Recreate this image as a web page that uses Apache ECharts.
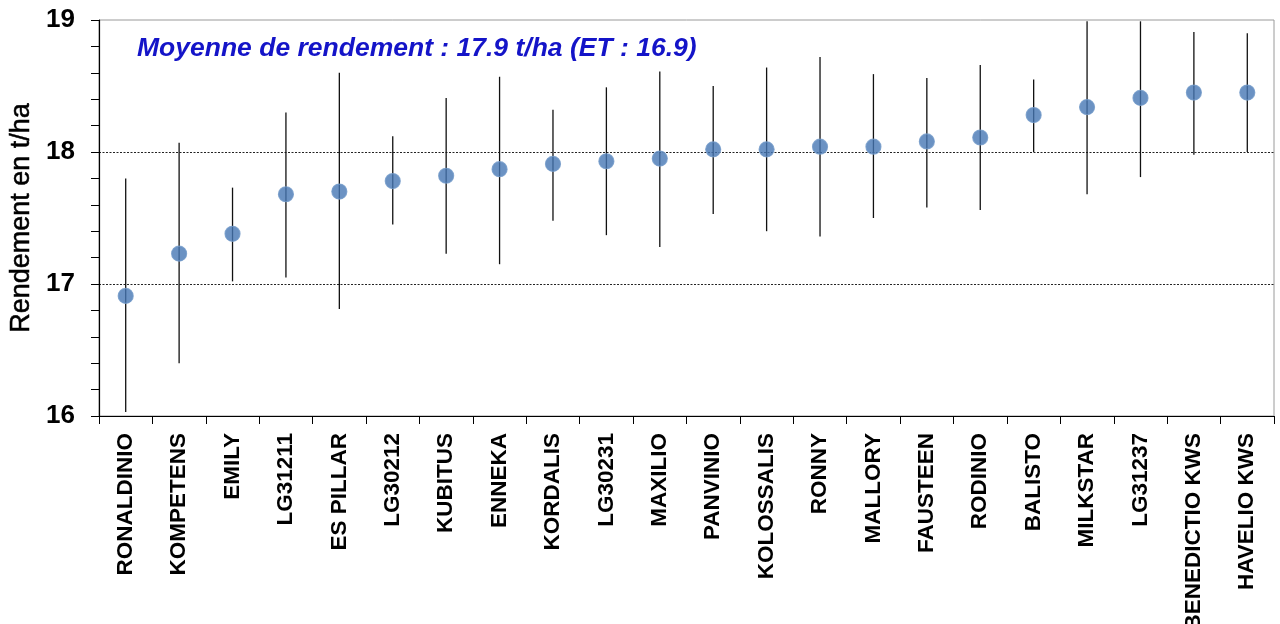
<!DOCTYPE html>
<html>
<head>
<meta charset="utf-8">
<script src="https://cdn.jsdelivr.net/npm/echarts@6/dist/echarts.min.js"></script>
<style>
html,body{margin:0;padding:0;background:#fff;}
#main{width:1280px;height:624px;}
</style>
</head>
<body>
<div id="main"></div>
<script>
var categories = ['RONALDINIO','KOMPETENS','EMILY','LG31211','ES PILLAR','LG30212','KUBITUS','ENNEKA','KORDALIS','LG30231','MAXILIO','PANVINIO','KOLOSSALIS','RONNY','MALLORY','FAUSTEEN','RODINIO','BALISTO','MILKSTAR','LG31237','BENEDICTIO KWS','HAVELIO KWS'];
var means = [16.91,17.23,17.38,17.68,17.70,17.78,17.82,17.87,17.91,17.93,17.95,18.02,18.02,18.04,18.04,18.08,18.11,18.28,18.34,18.41,18.45,18.45];
var lows  = [16.03,16.40,17.02,17.05,16.81,17.45,17.23,17.15,17.48,17.37,17.28,17.53,17.40,17.36,17.50,17.58,17.56,18.00,17.68,17.81,17.98,18.00];
var highs = [17.80,18.07,17.73,18.30,18.60,18.12,18.41,18.57,18.32,18.49,18.61,18.50,18.64,18.72,18.59,18.56,18.66,18.55,18.99,18.99,18.91,18.90];
var yTicks = [16,17,18,19];
var titleText = 'Moyenne de rendement : 17.9 t/ha (ET : 16.9)';
var yName = 'Rendement en t/ha';

var errData = categories.map(function(c,i){ return [i, lows[i], highs[i]]; });

var chart = echarts.init(document.getElementById('main'), null, {renderer:'canvas'});
chart.setOption({
  animation:false,
  backgroundColor:'#fff',
  title:{
    text:titleText, left:132, top:30,
    textStyle:{fontFamily:'Liberation Sans', fontSize:26.5, fontWeight:'bold', fontStyle:'italic', color:'#1414c8'}
  },
  grid:{left:99, right:6, top:20, bottom:208, show:true, borderColor:'#9a9a9a', borderWidth:1, outerBoundsMode:'none', containLabel:false},
  xAxis:{
    type:'category', data:categories, boundaryGap:true,
    axisLine:{lineStyle:{color:'#000', width:1.2}},
    axisTick:{show:true, length:8, inside:false, alignWithLabel:false, interval:0, lineStyle:{color:'#000'}},
    axisLabel:{interval:0, rotate:90, margin:17, fontFamily:'Liberation Sans', fontWeight:'bold', fontSize:22.5, color:'#000'},
    splitLine:{show:false}
  },
  yAxis:{
    type:'value', min:yTicks[0], max:yTicks[yTicks.length-1], interval:1,
    name:yName, nameLocation:'middle', nameRotate:90, nameGap:64,
    nameTextStyle:{fontFamily:'Liberation Sans', fontSize:27, color:'#000', textBorderColor:'#000', textBorderWidth:0.5},
    axisLine:{show:true, lineStyle:{color:'#000', width:1.2}},
    axisTick:{show:true, length:8, inside:false, lineStyle:{color:'#000'}},
    minorTick:{show:true, splitNumber:5, length:8, lineStyle:{color:'#000'}},
    axisLabel:{margin:24, fontFamily:'Liberation Sans', fontWeight:'bold', fontSize:26, color:'#000'},
    splitLine:{show:true, lineStyle:{type:[2,1.5], width:1, color:['rgba(0,0,0,0)','#222','#222','rgba(0,0,0,0)']}}
  },
  series:[
    {
      type:'custom', data:errData, z:2,
      encode:{x:0, y:[1,2]},
      renderItem:function(params, api){
        var p1 = api.coord([api.value(0), api.value(1)]);
        var p2 = api.coord([api.value(0), api.value(2)]);
        return {type:'line', shape:{x1:p1[0], y1:p1[1], x2:p2[0], y2:p2[1]}, style:{stroke:'#111', lineWidth:1.3}};
      }
    },
    {
      type:'scatter', data:means, z:3, symbol:'circle', symbolSize:15,
      itemStyle:{color:'#4677b4', borderColor:'#7099c8', borderWidth:1.2}
    }
  ]
});
</script>
</body>
</html>
